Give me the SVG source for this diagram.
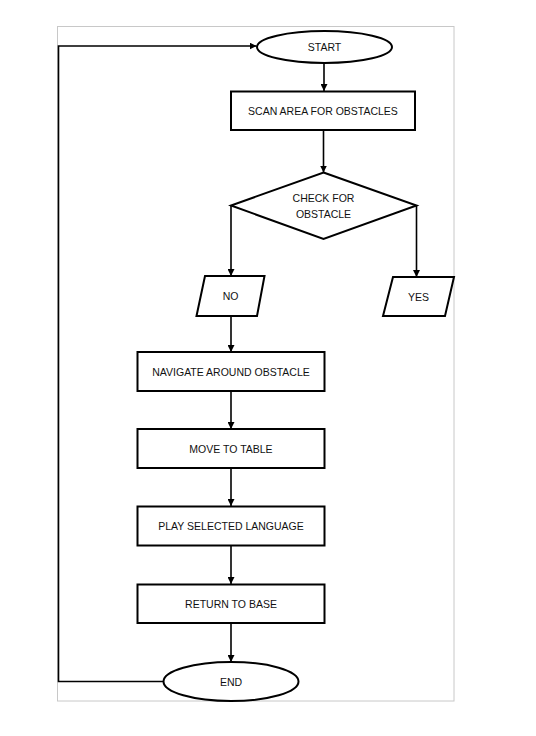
<svg xmlns="http://www.w3.org/2000/svg" width="536" height="736" viewBox="0 0 536 736">
<defs>
<marker id="ah" viewBox="0 0 10 10" refX="10" refY="5" markerWidth="7" markerHeight="7" markerUnits="userSpaceOnUse" orient="auto">
<path d="M0,0 L10,5 L0,10 z" fill="#000"/>
</marker>
<style>
.shape{fill:#fff;stroke:#000;stroke-width:2}
.conn{fill:none;stroke:#000;stroke-width:1.6;marker-end:url(#ah)}
.conn0{fill:none;stroke:#000;stroke-width:1.6}
.t{font-family:"Liberation Sans",Arial,sans-serif;font-size:10.5px;fill:#111;text-anchor:middle;dominant-baseline:central}
</style>
</defs>
<rect width="536" height="736" fill="#fff"/>
<rect x="57.5" y="26.5" width="396.5" height="674.5" fill="none" stroke="#c8c8c8" stroke-width="1"/>
<g id="connectors">
<path class="conn" d="M324,63 V91"/>
<path class="conn" d="M323.5,130 V172.5"/>
<path class="conn" d="M231,206 V276"/>
<path class="conn" d="M416.5,206 V277"/>
<path class="conn" d="M231,316 V352"/>
<path class="conn" d="M231,391 V429"/>
<path class="conn" d="M231,468 V506"/>
<path class="conn" d="M231,546 V584"/>
<path class="conn" d="M231,623 V662"/>
<path class="conn" d="M163.5,681.5 H58.5 V46 H256.5"/>
</g>
<g id="start">
<ellipse class="shape" cx="324.5" cy="47" rx="67.5" ry="16"/>
<text class="t" x="324.5" y="47">START</text>
</g>
<g id="scan">
<rect class="shape" x="231" y="91.5" width="184" height="38.5"/>
<text class="t" x="323" y="111">SCAN AREA FOR OBSTACLES</text>
</g>
<g id="check">
<polygon class="shape" points="323.5,172.5 416.5,205.5 323.5,239 231,205.5"/>
<text class="t" x="323.5" y="198">CHECK FOR</text>
<text class="t" x="323.5" y="213.5">OBSTACLE</text>
</g>
<g id="no">
<polygon class="shape" points="205,276 264.5,276 257,316 196.5,316"/>
<text class="t" x="230.5" y="296">NO</text>
</g>
<g id="yes">
<polygon class="shape" points="393,277 454,277 445,316 383,316"/>
<text class="t" x="418.5" y="296.5">YES</text>
</g>
<g id="navigate">
<rect class="shape" x="137.5" y="352" width="187" height="39"/>
<text class="t" x="231" y="371.5">NAVIGATE AROUND OBSTACLE</text>
</g>
<g id="move">
<rect class="shape" x="137.5" y="429" width="187" height="39"/>
<text class="t" x="231" y="448.5">MOVE TO TABLE</text>
</g>
<g id="play">
<rect class="shape" x="137.5" y="506.5" width="187" height="39"/>
<text class="t" x="231" y="526">PLAY SELECTED LANGUAGE</text>
</g>
<g id="return">
<rect class="shape" x="137.5" y="584.5" width="187" height="38.5"/>
<text class="t" x="231" y="604">RETURN TO BASE</text>
</g>
<g id="end">
<ellipse class="shape" cx="231" cy="681.5" rx="67.5" ry="19.5"/>
<text class="t" x="231" y="682">END</text>
</g>
</svg>
